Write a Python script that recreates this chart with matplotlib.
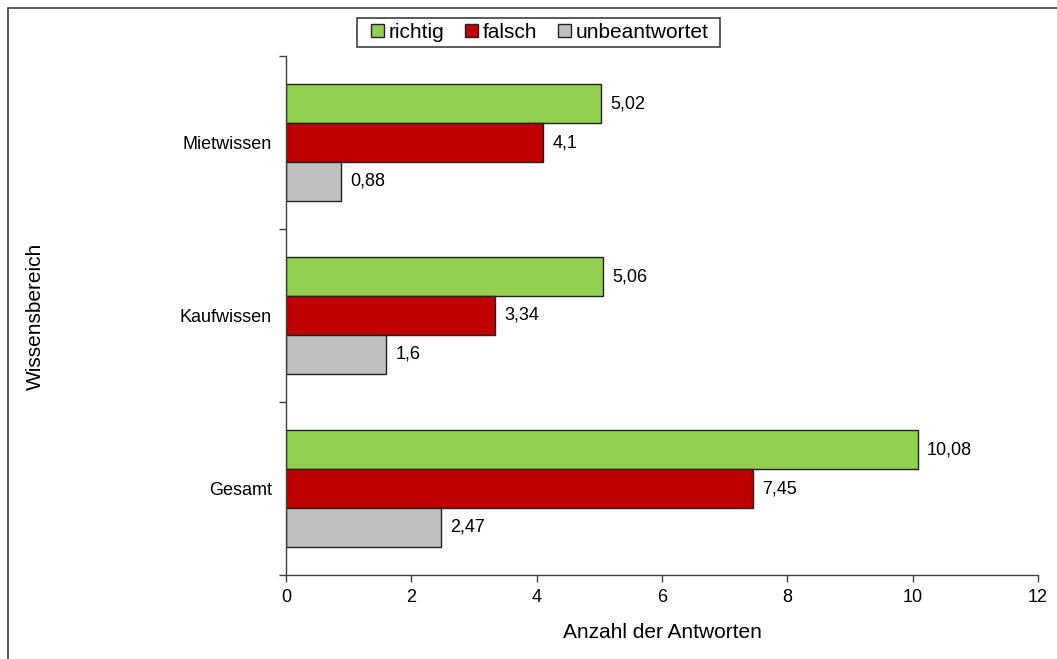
import numpy as np
import matplotlib.pyplot as plt
from matplotlib.patches import Rectangle

plt.rcParams['font.family'] = ['Liberation Sans', 'DejaVu Sans']

# Wissensbereiche von oben nach unten
bereiche = ['Mietwissen', 'Kaufwissen', 'Gesamt']
richtig = [5.02, 5.06, 10.08]
falsch = [4.1, 3.34, 7.45]
unbeantwortet = [0.88, 1.6, 2.47]

serien = ['richtig', 'falsch', 'unbeantwortet']
farben = ['#92D050', '#C00000', '#C0C0C0']
werte = [richtig, falsch, unbeantwortet]


def fmt(v):
    # deutsche Schreibweise mit Komma
    return ('%g' % v).replace('.', ',')


fig = plt.figure(figsize=(10.57, 6.59), dpi=100)
W, H = 1057, 659
ax = fig.add_axes([286 / W, 1 - 575 / H, (1038 - 286) / W, (575 - 56) / H])

# Rahmen um das ganze Diagramm
fig.patches.append(Rectangle((8 / W, -0.1), 1.2, 1 - 8 / H + 0.1,
                             transform=fig.transFigure, fill=False,
                             edgecolor='#404040', linewidth=1.2))

n = len(bereiche)
bar_h = 0.224
mitte = np.arange(n)[::-1] + 0.5  # Mietwissen oben

for i, (name, farbe, vals) in enumerate(zip(serien, farben, werte)):
    y = mitte + (1 - i) * bar_h
    ax.barh(y, vals, height=bar_h, color=farbe, edgecolor='#222222',
            linewidth=1.0, label=name)
    for yy, v in zip(y, vals):
        ax.text(v + 0.15, yy, fmt(v), va='center', ha='left', fontsize=13)

ax.set_xlim(0, 12)
ax.set_ylim(0, n)
ax.set_xticks(np.arange(0, 13, 2))
ax.set_yticks(np.arange(0, n + 1), minor=False)
ax.set_yticklabels([])
ax.set_yticks(mitte, minor=True)
ax.set_yticklabels(bereiche, minor=True)
ax.tick_params(axis='y', which='minor', length=0, pad=10, labelsize=13)
ax.tick_params(axis='y', which='major', length=5, width=1, color='#404040')
ax.tick_params(axis='x', length=5, width=1, color='#404040', labelsize=13, pad=5)

for s in ['top', 'right']:
    ax.spines[s].set_visible(False)
for s in ['left', 'bottom']:
    ax.spines[s].set_color('#404040')
    ax.spines[s].set_linewidth(1)

ax.set_xlabel('Anzahl der Antworten', fontsize=15, labelpad=12)
fig.text(35 / W, 1 - 316 / H, 'Wissensbereich', rotation=90,
         va='center', ha='center', fontsize=15)

leg = fig.legend(loc='center', bbox_to_anchor=(540 / W, 1 - 32.5 / H), ncol=3,
                 fontsize=15, frameon=False, handlelength=0.6,
                 handleheight=0.6, handletextpad=0.25, columnspacing=1.0,
                 borderpad=0.2, borderaxespad=0.0)
# Legendenrahmen, seitlich etwas breiter als der Inhalt
fig.patches.append(Rectangle((357 / W, 1 - 47 / H), (720 - 357) / W, 29 / H,
                             transform=fig.transFigure, fill=True,
                             facecolor='white', edgecolor='#404040',
                             linewidth=1.2, zorder=0))

fig.savefig('out.png', dpi=100)
